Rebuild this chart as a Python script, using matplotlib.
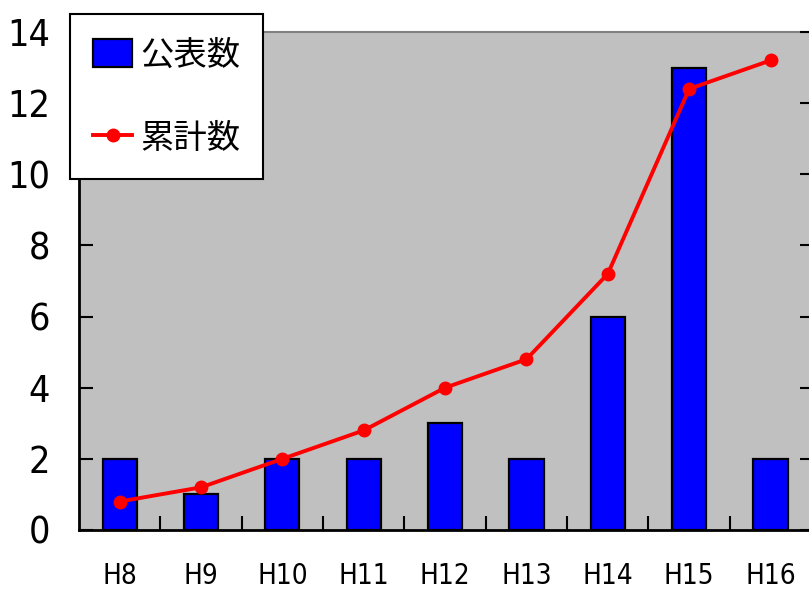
import matplotlib
matplotlib.use("Agg")
import matplotlib.pyplot as plt
from matplotlib import font_manager

# ── DATA ────────────────────────────────────────────────────────────────────
years = ["H8", "H9", "H10", "H11", "H12", "H13", "H14", "H15", "H16"]
published = [2, 1, 2, 2, 3, 2, 6, 13, 2]          # 公表数
cumulative = [2, 3, 5, 7, 10, 12, 18, 31, 33]     # 累計数

# pick the narrowest sans available for the tick labels
names = {f.name for f in font_manager.fontManager.ttflist}
condensed = [f for f in font_manager.fontManager.ttflist
             if f.name == "DejaVu Sans" and f.stretch in ("condensed", 600, "semi-condensed")]
if "Liberation Sans Narrow" in names:
    tick_font = dict(family="Liberation Sans Narrow")
elif condensed:
    tick_font = dict(family="DejaVu Sans", stretch="condensed")
else:
    tick_font = dict(family="Liberation Sans")


def apply_font(labels):
    for lab in labels:
        lab.set_family(tick_font["family"])
        if "stretch" in tick_font:
            lab.set_stretch(tick_font["stretch"])


fig = plt.figure(figsize=(8.09, 5.90), dpi=100, facecolor="white")
ax = fig.add_axes([0.0977, 0.1017, 0.905, 0.8441])
ax.set_facecolor("#C0C0C0")

x = range(len(years))
bars = ax.bar(x, published, width=0.42, color="#0000FF", edgecolor="black",
              linewidth=1.6, label="公表数", zorder=2)

ax.set_xlim(-0.5, len(years) - 0.5)
ax.set_ylim(0, 14)
ax.set_yticks(range(0, 15, 2))
ax.tick_params(axis="y", direction="in", length=10, width=1.5, pad=21,
               labelsize=27)
apply_font(ax.get_yticklabels())

# category boundaries carry the ticks, centres carry the labels
ax.set_xticks([i + 0.5 for i in range(len(years) - 1)])
ax.set_xticklabels([])
ax.tick_params(axis="x", which="major", direction="in", length=10, width=1.5)
ax.set_xticks(list(x), minor=True)
ax.set_xticklabels(years, minor=True, fontsize=20)
ax.tick_params(axis="x", which="minor", length=0, pad=23)
apply_font(ax.get_xticklabels(minor=True))

ax.spines["left"].set_linewidth(2)
ax.spines["bottom"].set_linewidth(2)
ax.spines["top"].set_color("#808080")
ax.spines["top"].set_linewidth(1.5)
ax.spines["right"].set_visible(False)

# cumulative on the secondary scale (0–35)
ax2 = ax.twinx()
ax2.set_ylim(0, 35)
ax2.set_yticks(range(0, 36, 5))
ax2.set_yticklabels([])
ax2.tick_params(axis="y", direction="in", length=8, width=1.5)
for sp in ("left", "right", "top", "bottom"):
    ax2.spines[sp].set_visible(False)
line, = ax2.plot(list(x), cumulative, color="#FF0000", lw=2.8, marker="o",
                 markersize=9, label="累計数", zorder=3)

leg = ax2.legend([bars, line], ["公表数", "累計数"],
                 loc="upper left", bbox_to_anchor=(70 / 809, 1 - 14 / 590),
                 bbox_transform=fig.transFigure,
                 prop={"family": "Noto Sans CJK JP", "size": 24},
                 frameon=True, fancybox=False, framealpha=1,
                 edgecolor="black", handlelength=1.15, handleheight=0.9,
                 handletextpad=0.25, labelspacing=1.45, borderpad=0.7,
                 borderaxespad=0)
leg.get_frame().set_linewidth(1.5)

fig.savefig("out.png", dpi=100, facecolor=fig.get_facecolor())
